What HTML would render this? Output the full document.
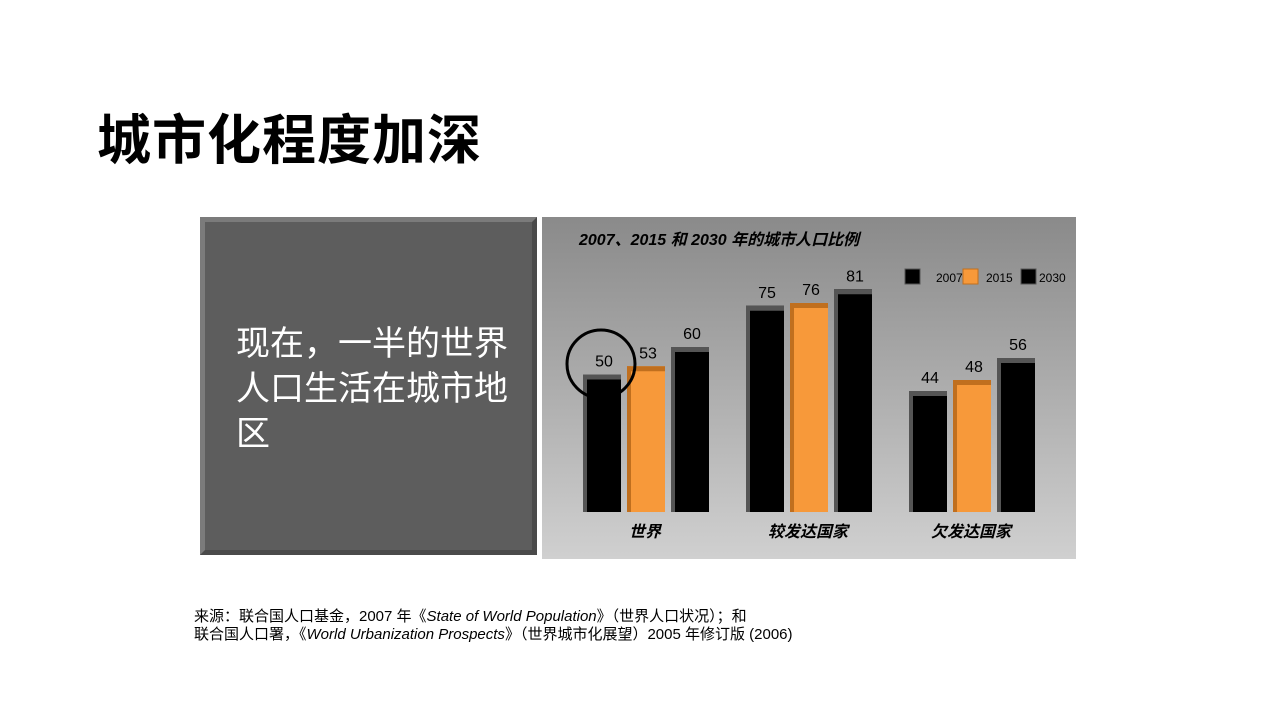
<!DOCTYPE html>
<html><head><meta charset="utf-8">
<style>
body{margin:0;width:1280px;height:720px;background:#fff;position:relative;overflow:hidden;font-family:"Liberation Sans","Noto Sans CJK SC",sans-serif;}
.title{position:absolute;left:97px;top:96px;font-size:54px;font-weight:bold;color:#000;letter-spacing:1px;}
.left{position:absolute;left:200px;top:217px;width:327px;height:328px;background:#5d5d5d;border:5px solid;border-color:#7b7b7b #4a4a4a #4a4a4a #7b7b7b;}
.left p{margin:0;position:absolute;left:31px;top:100px;width:280px;color:#fff;font-size:34px;line-height:45px;}
.src{position:absolute;left:194px;top:608px;font-size:15px;line-height:18px;color:#000;}
</style></head><body>
<div class="title">城市化程度加深</div>
<div class="left"><p>现在，一半的世界人口生活在城市地区</p></div>
<svg id="chart" style="position:absolute;left:542px;top:217px" width="534" height="342">
<defs><linearGradient id="bg" x1="0" y1="0" x2="0" y2="1"><stop offset="0" stop-color="#8a8a8a"/><stop offset="1" stop-color="#d0d0d0"/></linearGradient></defs>
<rect width="534" height="342" fill="url(#bg)"/>
<text x="37" y="28" font-size="16" font-weight="bold" font-style="italic" fill="#000">2007、2015 和 2030 年的城市人口比例</text>
<g id="bars"></g>
<g id="legend"></g>
<circle cx="59" cy="147" r="34" fill="none" stroke="#000" stroke-width="3"/>
</svg>
<div class="src">来源：联合国人口基金，2007 年《<i>State of World Population</i>》（世界人口状况）；和<br>联合国人口署，《<i>World Urbanization Prospects</i>》（世界城市化展望）2005 年修订版 (2006)</div>
<script>
const categories=["世界","较发达国家","欠发达国家"];
const seriesNames=["2007","2015","2030"];
const v2007=[50,75,44];
const v2015=[53,76,48];
const v2030=[60,81,56];
const series=[v2007,v2015,v2030];
const colors=["#000","#f7993a","#000"];
const edge=["#555","#c06f1e","#555"];
const NS="http://www.w3.org/2000/svg";
const baseY=295, scale=2.75;
function y(v){return baseY-v*scale;}
function groupX(i){return 103+i*163;}
function barX(i,s){return groupX(i)-62+s*44;}
const g=document.getElementById('bars');
function mk(tag,attrs){const e=document.createElementNS(NS,tag);for(const k in attrs)e.setAttribute(k,attrs[k]);return e;}
categories.forEach((c,i)=>{
  series.forEach((arr,s)=>{
    const x=barX(i,s),top=y(arr[i]),w=38,h=baseY-top;
    const r=mk('rect',{x:x,y:top,width:w,height:h,fill:colors[s]});
    
    
    g.appendChild(r);
    g.appendChild(mk('rect',{x:x,y:top,width:w,height:5,fill:edge[s]}));
    g.appendChild(mk('rect',{x:x,y:top,width:4,height:h,fill:edge[s]}));
    const t=mk('text',{x:x+w/2+2,y:top-8,'text-anchor':'middle','font-size':16,fill:'#000'});
    t.textContent=arr[i];
    
    
    g.appendChild(t);
  });
  const l=mk('text',{x:groupX(i),y:320,'text-anchor':'middle','font-size':16,'font-weight':'bold','font-style':'italic',fill:'#000'});
  l.textContent=c;
  
  
  g.appendChild(l);
});
const lg=document.getElementById('legend');
const lx=[364,422,480];
seriesNames.forEach((n,s)=>{
  const r=mk('rect',{x:lx[s]-1,y:52,width:15,height:15,fill:colors[s],stroke:edge[s]});
  
  
  lg.appendChild(r);
  const t=mk('text',{x:[394,444,497][s],y:65,'font-size':12,fill:'#000'});
  t.textContent=n;
  
  
  lg.appendChild(t);
});
</script>
</body></html>
